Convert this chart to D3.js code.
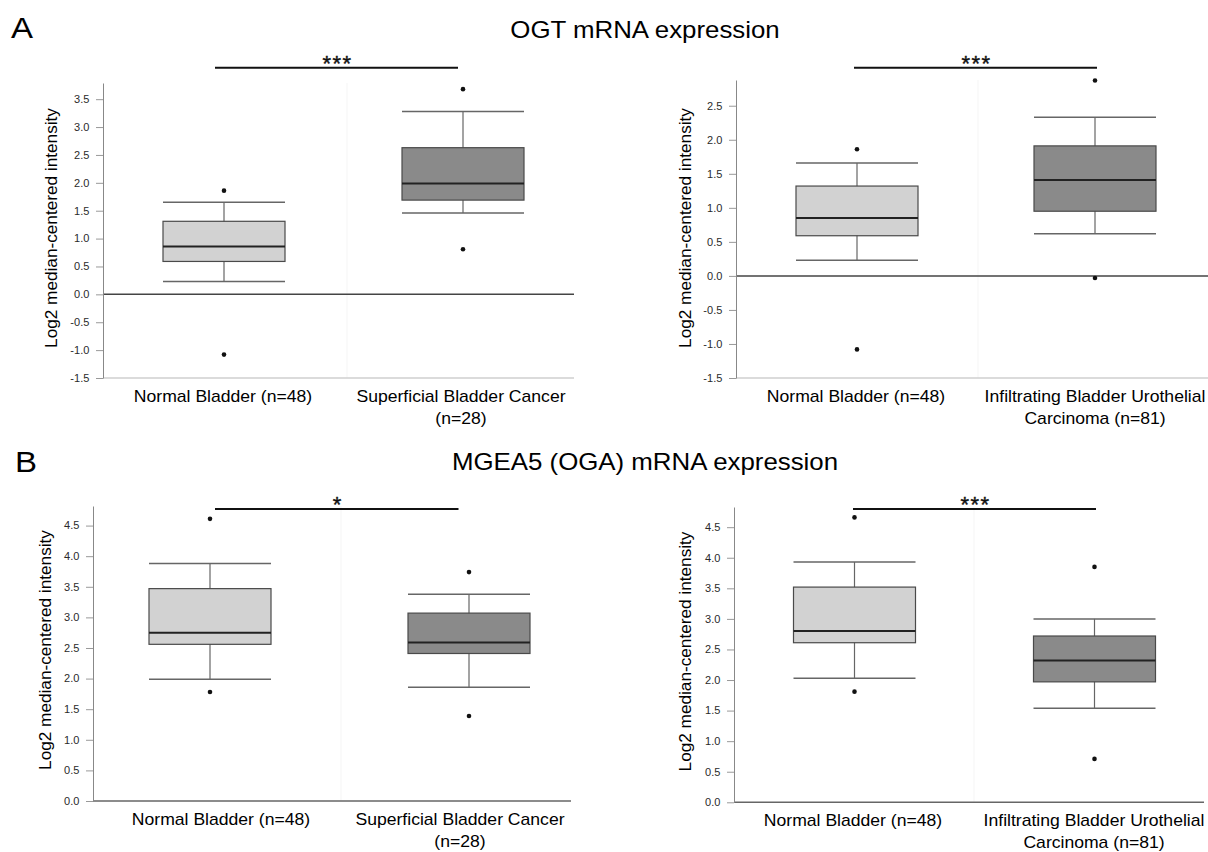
<!DOCTYPE html>
<html>
<head>
<meta charset="utf-8">
<script src="https://cdn.jsdelivr.net/npm/d3@7"></script>
<style>
  body { margin: 0; background: #fff; }
  svg { display: block; }
  text { font-family: "Liberation Sans", Arial, sans-serif; }
</style>
</head>
<body>
<div id="canvas"></div>
<script>
//---- ---- DATA ---- ----
// box stats: [lower whisker, q1, median, q3, upper whisker]
var catNormal = ['Normal Bladder (n=48)'];
var catSuperficial = ['Superficial Bladder Cancer', '(n=28)'];
var catInfiltrating = ['Infiltrating Bladder Urothelial', 'Carcinoma (n=81)'];

var ogtNormal1 = [0.23, 0.59, 0.86, 1.31, 1.65],
    ogtNormal1Out = [1.86, -1.08];
var ogtSuperficial = [1.46, 1.69, 1.99, 2.63, 3.28],
    ogtSuperficialOut = [3.68, 0.81];
var ogtNormal2 = [0.23, 0.59, 0.85, 1.32, 1.66],
    ogtNormal2Out = [1.86, -1.08];
var ogtInfiltrating = [0.62, 0.95, 1.41, 1.91, 2.33],
    ogtInfiltratingOut = [2.87, -0.03];

var ogaNormal1 = [1.99, 2.56, 2.75, 3.47, 3.88],
    ogaNormal1Out = [4.61, 1.78];
var ogaSuperficial = [1.86, 2.41, 2.59, 3.07, 3.38],
    ogaSuperficialOut = [3.74, 1.39];
var ogaNormal2 = [2.03, 2.61, 2.80, 3.52, 3.93],
    ogaNormal2Out = [4.66, 1.81];
var ogaInfiltrating = [1.54, 1.97, 2.32, 2.72, 3.00],
    ogaInfiltratingOut = [3.85, 0.71];

var ticksOgt1 = [-1.5, -1.0, -0.5, 0.0, 0.5, 1.0, 1.5, 2.0, 2.5, 3.0, 3.5];
var ticksOgt2 = [-1.5, -1.0, -0.5, 0.0, 0.5, 1.0, 1.5, 2.0, 2.5];
var ticksOga = [0.0, 0.5, 1.0, 1.5, 2.0, 2.5, 3.0, 3.5, 4.0, 4.5];

var titleA = 'OGT mRNA expression',
    titleB = 'MGEA5 (OGA) mRNA expression';
var yLabel = 'Log2 median-centered intensity';
var sigA1 = '***', sigA2 = '***', sigB1 = '*', sigB2 = '***';

//---- ---- PLOT AREA ---- ----
var W = 1208, H = 852;
var svg = d3.select('#canvas').append('svg')
    .attr('width', W).attr('height', H);

var SX = 1.1; // glyphs in the figure are a bit wide

function stretch(sel, x, y) {
    sel.attr('transform', 'translate(' + x + ',' + y + ') scale(' + SX + ',1)');
    return sel;
}

// panel letters and titles
stretch(svg.append('text').text('A'), 11, 38).attr('font-size', 30);
stretch(svg.append('text').text('B'), 15, 472).attr('font-size', 30);
stretch(svg.append('text').text(titleA), 645, 38)
    .attr('font-size', 23.5).attr('text-anchor', 'middle');
stretch(svg.append('text').text(titleB), 645, 470)
    .attr('font-size', 23.5).attr('text-anchor', 'middle');

var panels = [
  { ax: 103, right: 574, top: 83, bottom: 378, domain: [-1.5, 3.79], ticks: ticksOgt1,
    zeroLine: true, boxC: [224, 463], labC: [223, 461], yLab: [52, 228],
    cats: [catNormal, catSuperficial], stats: [ogtNormal1, ogtSuperficial],
    outs: [ogtNormal1Out, ogtSuperficialOut], sig: sigA1, sigY: 67.7, sigX: [215, 458], divX: 347 },
  { ax: 736, right: 1208, top: 80, bottom: 378, domain: [-1.5, 2.878], ticks: ticksOgt2,
    zeroLine: true, boxC: [857, 1095], labC: [856, 1095], yLab: [686, 228],
    cats: [catNormal, catInfiltrating], stats: [ogtNormal2, ogtInfiltrating],
    outs: [ogtNormal2Out, ogtInfiltratingOut], sig: sigA2, sigY: 67.7, sigX: [854, 1097], divX: 978 },
  { ax: 93, right: 571, top: 506, bottom: 801, domain: [0, 4.82], ticks: ticksOga,
    zeroLine: false, boxC: [210, 469], labC: [221, 460], yLab: [46, 650],
    cats: [catNormal, catSuperficial], stats: [ogaNormal1, ogaSuperficial],
    outs: [ogaNormal1Out, ogaSuperficialOut], sig: sigB1, sigY: 509, sigX: [215, 458.5], divX: 341 },
  { ax: 734, right: 1204, top: 507, bottom: 802.3, domain: [0, 4.83], ticks: ticksOga,
    zeroLine: false, boxC: [854.5, 1094.5], labC: [853, 1094], yLab: [686, 651.5],
    cats: [catNormal, catInfiltrating], stats: [ogaNormal2, ogaInfiltrating],
    outs: [ogaNormal2Out, ogaInfiltratingOut], sig: sigB2, sigY: 509, sigX: [853, 1096], divX: 974 }
];

var fills = ['#d2d2d2', '#8a8a8a'];
var boxW = 122;

panels.forEach(function(p) {
    var g = svg.append('g');
    var names = p.cats.map(function(c) { return c.join(' '); });

    // ---- ---- SCALES ---- ----
    var y = d3.scaleLinear().domain(p.domain).range([p.bottom, p.top]);
    var x = d3.scalePoint().domain(names).range(p.boxC);
    var xLab = d3.scalePoint().domain(names).range(p.labC);

    // faint divider between groups
    g.append('line')
        .attr('x1', p.divX).attr('x2', p.divX)
        .attr('y1', p.top).attr('y2', p.bottom)
        .attr('stroke', '#f5f5f5');

    // bottom line
    g.append('line')
        .attr('x1', p.ax).attr('x2', p.right)
        .attr('y1', p.bottom).attr('y2', p.bottom)
        .attr('stroke', p.zeroLine ? '#cfcfcf' : '#666')
        .attr('stroke-width', 1.5);

    if (p.zeroLine) {
        g.append('line')
            .attr('x1', p.ax).attr('x2', p.right)
            .attr('y1', y(0)).attr('y2', y(0))
            .attr('stroke', '#444').attr('stroke-width', 1.5);
    }

    // ---- ---- AXIS ---- ----
    var axisY = d3.axisLeft(y)
        .tickValues(p.ticks)
        .tickFormat(function(d) { return d.toFixed(1); })
        .tickSize(7).tickSizeOuter(0).tickPadding(6);

    var ag = g.append('g').attr('transform', 'translate(' + p.ax + ',0)').call(axisY);
    ag.select('.domain').attr('stroke', '#888');
    ag.selectAll('.tick line').attr('stroke', '#999');
    ag.selectAll('.tick text')
        .attr('font-family', '"DejaVu Sans", sans-serif')
        .attr('font-size', 10.5)
        .attr('fill', '#2a2a2a')
        .attr('transform', 'scale(1.05,1)');

    // y label
    g.append('text')
        .attr('transform', 'translate(' + (p.yLab[0] + 4.5) + ',' + p.yLab[1] + ') rotate(-90)')
        .attr('text-anchor', 'middle')
        .attr('font-size', 17.2)
        .attr('fill', '#000')
        .text(yLabel);

    // ---- ---- BOXES ---- ----
    var data = names.map(function(n, i) {
        return { name: n, s: p.stats[i], out: p.outs[i], lines: p.cats[i], i: i };
    });

    var box = g.selectAll('.box').data(data).enter().append('g').attr('class', 'box');

    // whisker stems
    box.append('line')
        .attr('x1', function(d) { return x(d.name); })
        .attr('x2', function(d) { return x(d.name); })
        .attr('y1', function(d) { return y(d.s[0]); })
        .attr('y2', function(d) { return y(d.s[4]); })
        .attr('stroke', '#666').attr('stroke-width', 1.2);

    // whisker caps
    [0, 4].forEach(function(k) {
        box.append('line')
            .attr('x1', function(d) { return x(d.name) - boxW / 2; })
            .attr('x2', function(d) { return x(d.name) + boxW / 2; })
            .attr('y1', function(d) { return y(d.s[k]); })
            .attr('y2', function(d) { return y(d.s[k]); })
            .attr('stroke', '#666').attr('stroke-width', 1.5);
    });

    box.append('rect')
        .attr('x', function(d) { return x(d.name) - boxW / 2; })
        .attr('width', boxW)
        .attr('y', function(d) { return y(d.s[3]); })
        .attr('height', function(d) { return y(d.s[1]) - y(d.s[3]); })
        .attr('fill', function(d) { return fills[d.i]; })
        .attr('stroke', '#4a4a4a').attr('stroke-width', 1.2);

    box.append('line')
        .attr('x1', function(d) { return x(d.name) - boxW / 2; })
        .attr('x2', function(d) { return x(d.name) + boxW / 2; })
        .attr('y1', function(d) { return y(d.s[2]); })
        .attr('y2', function(d) { return y(d.s[2]); })
        .attr('stroke', '#222').attr('stroke-width', 2);

    box.selectAll('circle')
        .data(function(d) { return d.out.map(function(v) { return { name: d.name, v: v }; }); })
        .enter().append('circle')
        .attr('cx', function(d) { return x(d.name); })
        .attr('cy', function(d) { return y(d.v); })
        .attr('r', 2.3)
        .attr('fill', '#111');

    // category labels
    box.each(function(d) {
        var sel = d3.select(this);
        d.lines.forEach(function(t, j) {
            stretch(sel.append('text'), xLab(d.name), p.bottom + 23.5 + j * 22)
                .attr('text-anchor', 'middle')
                .attr('font-size', 16)
                .attr('fill', '#000')
                .text(t);
        });
    });

    // ---- ---- SIGNIFICANCE ---- ----
    g.append('line')
        .attr('x1', p.sigX[0]).attr('x2', p.sigX[1])
        .attr('y1', p.sigY).attr('y2', p.sigY)
        .attr('stroke', '#111').attr('stroke-width', 2);

    g.append('text')
        .attr('x', (p.sigX[0] + p.sigX[1]) / 2 + 1)
        .attr('y', p.sigY + 3)
        .attr('text-anchor', 'middle')
        .attr('font-family', '"DejaVu Sans", sans-serif')
        .attr('font-size', 22)
        .attr('letter-spacing', 1.5)
        .attr('stroke', '#111').attr('stroke-width', 0.4)
        .attr('fill', '#111')
        .text(p.sig);
});
</script>
</body>
</html>
